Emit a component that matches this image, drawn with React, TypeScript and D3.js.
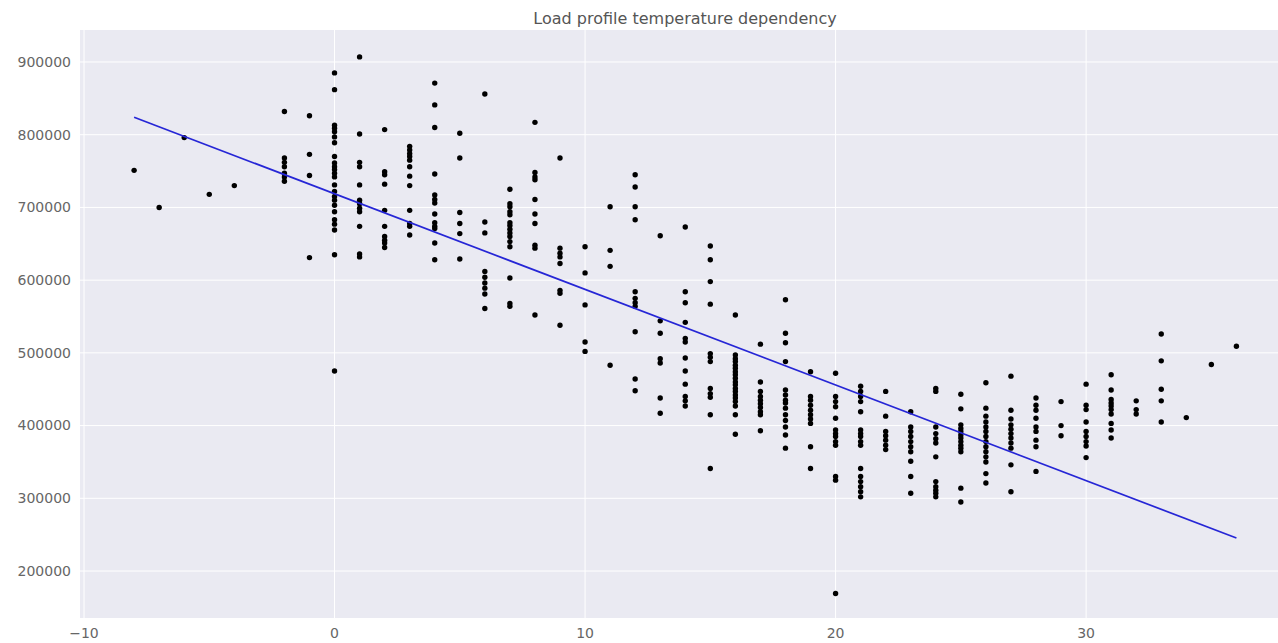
import React from "react";
import * as d3 from "d3";

const temperatures: number[] = [-8, -7, -6, -5, -4, -2, -1, 0, 1, 2, 3, 4, 5, 6, 7, 8, 9, 10, 11, 12, 13, 14, 15, 16, 17, 18, 19, 20, 21, 22, 23, 24, 25, 26, 27, 28, 29, 30, 31, 32, 33, 34, 35, 36];

const loadsByTemperature: number[][] = [
  [751000],
  [700000],
  [796000],
  [718000],
  [730000],
  [832000, 768000, 762000, 756000, 747000, 742000, 736000],
  [826000, 773000, 744000, 631000],
  [885000, 862000, 813000, 809000, 804000, 797000, 789000, 770000, 761000, 756000, 752000, 747000, 742000, 731000, 722000, 715000, 710000, 703000, 694000, 683000, 677000, 669000, 635000, 475000],
  [907000, 801000, 762000, 756000, 731000, 710000, 705000, 699000, 694000, 674000, 636000, 632000],
  [807000, 749000, 745000, 732000, 696000, 674000, 660000, 655000, 651000, 645000],
  [784000, 779000, 774000, 770000, 765000, 756000, 743000, 730000, 696000, 678000, 674000, 662000],
  [871000, 841000, 810000, 746000, 717000, 711000, 706000, 691000, 679000, 674000, 671000, 651000, 628000],
  [802000, 768000, 693000, 678000, 664000, 629000],
  [856000, 680000, 665000, 612000, 604000, 596000, 589000, 581000, 561000],
  [725000, 705000, 701000, 694000, 690000, 679000, 675000, 670000, 665000, 660000, 653000, 646000, 603000, 568000, 564000],
  [817000, 748000, 742000, 738000, 711000, 691000, 678000, 648000, 644000, 552000],
  [768000, 644000, 637000, 632000, 623000, 586000, 582000, 538000],
  [646000, 610000, 566000, 515000, 502000],
  [701000, 641000, 619000, 483000],
  [745000, 728000, 701000, 683000, 584000, 575000, 569000, 564000, 529000, 464000, 448000],
  [661000, 544000, 527000, 492000, 486000, 438000, 417000],
  [673000, 584000, 569000, 542000, 520000, 515000, 493000, 475000, 457000, 440000, 434000, 427000],
  [647000, 628000, 598000, 567000, 499000, 494000, 488000, 451000, 444000, 439000, 415000, 341000],
  [552000, 497000, 492000, 488000, 483000, 479000, 474000, 470000, 465000, 460000, 456000, 451000, 447000, 442000, 438000, 433000, 427000, 415000, 388000],
  [512000, 460000, 447000, 440000, 435000, 430000, 425000, 419000, 415000, 393000],
  [573000, 527000, 514000, 488000, 449000, 442000, 435000, 431000, 424000, 415000, 407000, 398000, 387000, 369000],
  [474000, 440000, 435000, 428000, 421000, 415000, 409000, 403000, 371000, 341000],
  [472000, 440000, 433000, 426000, 410000, 394000, 389000, 385000, 378000, 373000, 330000, 325000, 169000],
  [454000, 447000, 440000, 433000, 419000, 394000, 389000, 385000, 378000, 373000, 341000, 330000, 323000, 316000, 309000, 302000],
  [447000, 413000, 392000, 386000, 380000, 373000, 367000],
  [419000, 398000, 392000, 385000, 378000, 371000, 364000, 351000, 330000, 307000],
  [451000, 447000, 398000, 389000, 382000, 376000, 357000, 323000, 316000, 311000, 307000, 302000],
  [443000, 423000, 401000, 396000, 392000, 387000, 383000, 378000, 373000, 369000, 364000, 314000, 295000],
  [459000, 424000, 413000, 405000, 398000, 392000, 385000, 378000, 371000, 364000, 357000, 350000, 334000, 321000],
  [468000, 421000, 409000, 401000, 395000, 389000, 383000, 376000, 369000, 346000, 309000],
  [438000, 428000, 421000, 410000, 398000, 392000, 380000, 371000, 337000],
  [433000, 400000, 386000],
  [457000, 428000, 422000, 405000, 392000, 385000, 378000, 372000, 356000],
  [470000, 449000, 436000, 431000, 427000, 422000, 416000, 403000, 394000, 383000],
  [434000, 422000, 416000],
  [526000, 489000, 450000, 434000, 405000],
  [411000],
  [484000],
  [509000],
];

const xTicks: number[] = [-10, 0, 10, 20, 30];
const yTicks: number[] = [200000, 300000, 400000, 500000, 600000, 700000, 800000, 900000];

const fitSlope = -13150;
const fitIntercept = 718800;
const fitRange: number[] = [-8, 36];

const title = "Load profile temperature dependency";

export default function App() {
  const W = 1278;
  const H = 643;
  const left = 80;
  const right = 1278;
  const top = 30;
  const bottom = 618;

  const x = d3.scaleLinear().domain([-10.16, 37.66]).range([left, right]);
  const y = d3.scaleLinear().domain([135400, 944000]).range([bottom, top]);

  const points: { t: number; v: number }[] = [];
  temperatures.forEach((t, i) => {
    loadsByTemperature[i].forEach((v) => points.push({ t, v }));
  });

  const line = d3
    .line<number>()
    .x((t) => x(t))
    .y((t) => y(fitIntercept + fitSlope * t));

  const font = "'DejaVu Sans', sans-serif";

  return (
    <svg
      width={W}
      height={H}
      style={{ position: "absolute", left: 0, top: 0, background: "#fff" }}
    >
      <rect x={left} y={top} width={right - left} height={bottom - top} fill="#EAEAF2" />
      {xTicks.map((t) => (
        <line key={"gx" + t} x1={x(t)} x2={x(t)} y1={top} y2={bottom} stroke="#fff" strokeWidth={1} />
      ))}
      {yTicks.map((v) => (
        <line key={"gy" + v} x1={left} x2={right} y1={y(v)} y2={y(v)} stroke="#fff" strokeWidth={1} />
      ))}
      {points.map((p, i) => (
        <circle key={i} cx={x(p.t)} cy={y(p.v)} r={2.7} fill="#000" />
      ))}
      <path d={line(fitRange) || ""} fill="none" stroke="#2626d6" strokeWidth={1.7} />
      {xTicks.map((t) => (
        <text key={"tx" + t} x={x(t)} y={638} textAnchor="middle" fontFamily={font} fontSize={14} fill="#666">
          {t < 0 ? "\u2212" + Math.abs(t) : String(t)}
        </text>
      ))}
      {yTicks.map((v) => (
        <text key={"ty" + v} x={71} y={y(v)} dy="0.35em" textAnchor="end" fontFamily={font} fontSize={14} fill="#666">
          {String(v)}
        </text>
      ))}
      <text x={685} y={24} textAnchor="middle" fontFamily={font} fontSize={16} fill="#555">
        {title}
      </text>
    </svg>
  );
}
